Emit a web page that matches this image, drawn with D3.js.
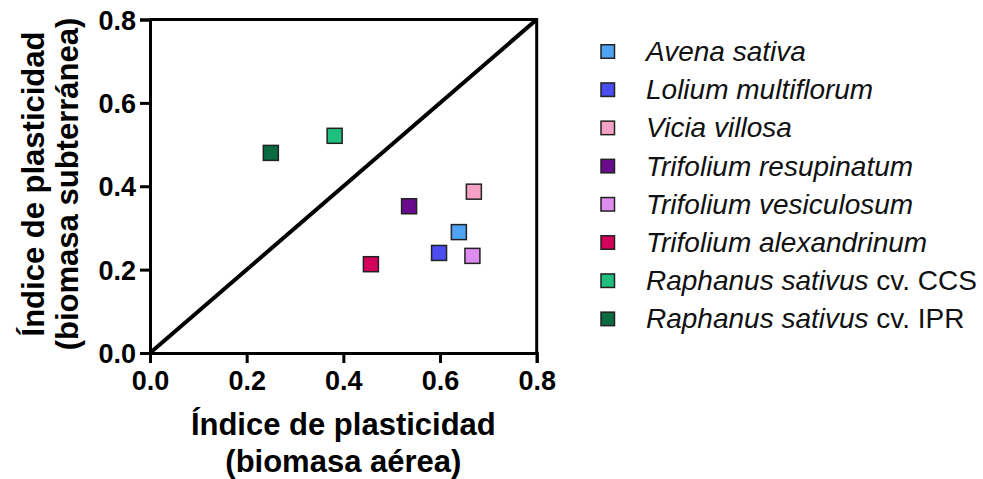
<!DOCTYPE html>
<html>
<head>
<meta charset="utf-8">
<script src="https://cdn.jsdelivr.net/npm/d3@7"></script>
<style>
  html, body { margin: 0; padding: 0; background: #fff; }
  svg { display: block; font-family: "Liberation Sans", Arial, sans-serif; }
</style>
</head>
<body>
<svg id="chart" width="983" height="479"></svg>
<script>
// Plasticity index: aerial biomass (x) vs. underground biomass (y) for each cover crop
const speciesNames = [
  "Avena sativa",
  "Lolium multiflorum",
  "Vicia villosa",
  "Trifolium resupinatum",
  "Trifolium vesiculosum",
  "Trifolium alexandrinum",
  "Raphanus sativus",
  "Raphanus sativus"
];
const cultivars = ["", "", "", "", "", "", "cv. CCS", "cv. IPR"];
const aerialIndex = [0.639, 0.598, 0.670, 0.536, 0.667, 0.457, 0.382, 0.250];
const undergroundIndex = [0.290, 0.240, 0.387, 0.352, 0.233, 0.213, 0.521, 0.480];
const speciesColors = ["#4fa3f5", "#4b4cf2", "#f6a2c6", "#6a0b8e", "#df8cf0", "#d3005c", "#1fc07f", "#0c6a43"];
const tickValues = [0.0, 0.2, 0.4, 0.6, 0.8];
const xTitle = ["Índice de plasticidad", "(biomasa aérea)"];
const yTitle = ["Índice de plasticidad", "(biomasa subterránea)"];

const svg = d3.select("#chart");
const plotLeft = 150, plotRight = 536.7, plotTop = 19.5, plotBottom = 353;

const x = d3.scaleLinear().domain([0, 0.8]).range([plotLeft, plotRight]);
const y = d3.scaleLinear().domain([0, 0.8]).range([plotBottom, plotTop]);

// frame: top and right edges
svg.append("path")
  .attr("d", `M${x(0)},${y(0.8)}H${x(0.8)}V${y(0)}`)
  .attr("fill", "none").attr("stroke", "#000").attr("stroke-width", 3);

// 1:1 reference line
svg.append("line")
  .attr("x1", x(0)).attr("y1", y(0)).attr("x2", x(0.8)).attr("y2", y(0.8))
  .attr("stroke", "#000").attr("stroke-width", 4);

const fmt = d3.format(".1f");

const xAxis = svg.append("g")
  .attr("transform", `translate(0,${plotBottom})`)
  .call(d3.axisBottom(x).tickValues(tickValues).tickFormat(fmt).tickSize(10).tickPadding(8));
const yAxis = svg.append("g")
  .attr("transform", `translate(${plotLeft},0)`)
  .call(d3.axisLeft(y).tickValues(tickValues).tickFormat(fmt).tickSize(10).tickPadding(4));

[xAxis, yAxis].forEach(g => {
  g.select(".domain").attr("stroke", "#000").attr("stroke-width", 3);
  g.selectAll(".tick line").attr("stroke", "#000").attr("stroke-width", 3);
  g.selectAll(".tick text")
    .attr("fill", "#000")
    .style("font-family", "'Liberation Sans', Arial, sans-serif")
    .style("font-size", "27px").style("font-weight", "bold");
});
yAxis.selectAll(".tick text").attr("dy", "0.36em");

// data markers
const pts = speciesNames.map((n, i) => ({ i, x: aerialIndex[i], y: undergroundIndex[i] }));
const s = 15;
svg.append("g").selectAll("rect").data(pts).join("rect")
  .attr("x", d => x(d.x) - s / 2)
  .attr("y", d => y(d.y) - s / 2)
  .attr("width", s).attr("height", s)
  .attr("fill", d => speciesColors[d.i])
  .attr("stroke", "#222").attr("stroke-width", 1.5);

// axis titles
const xt = svg.append("text")
  .attr("text-anchor", "middle")
  .style("font-size", "31px").style("font-weight", "bold");
xTitle.forEach((t, k) => {
  xt.append("tspan").attr("x", (plotLeft + plotRight) / 2).attr("y", 435 + k * 37).text(t);
});

const yt = svg.append("text")
  .attr("text-anchor", "middle")
  .attr("transform", "translate(44,184) rotate(-90)")
  .style("font-size", "31px").style("font-weight", "bold");
yTitle.forEach((t, k) => {
  yt.append("tspan").attr("x", 0).attr("y", k * 34).text(t);
});

// legend
const legend = svg.append("g").attr("transform", "translate(601,61)");
const rowH = 38.2, ls = 13.5;
const rows = legend.selectAll("g").data(pts).join("g")
  .attr("transform", (d, i) => `translate(0,${i * rowH})`);
rows.append("rect")
  .attr("x", 0).attr("y", -9.5 - ls / 2)
  .attr("width", ls).attr("height", ls)
  .attr("fill", d => speciesColors[d.i])
  .attr("stroke", "#222").attr("stroke-width", 1.5);
const lt = rows.append("text")
  .attr("x", 45).attr("y", 0)
  .style("font-size", "28px").attr("fill", "#111");
lt.append("tspan").style("font-style", "italic").text(d => speciesNames[d.i]);
lt.filter(d => cultivars[d.i]).append("tspan").text(d => " " + cultivars[d.i]);
</script>
</body>
</html>
